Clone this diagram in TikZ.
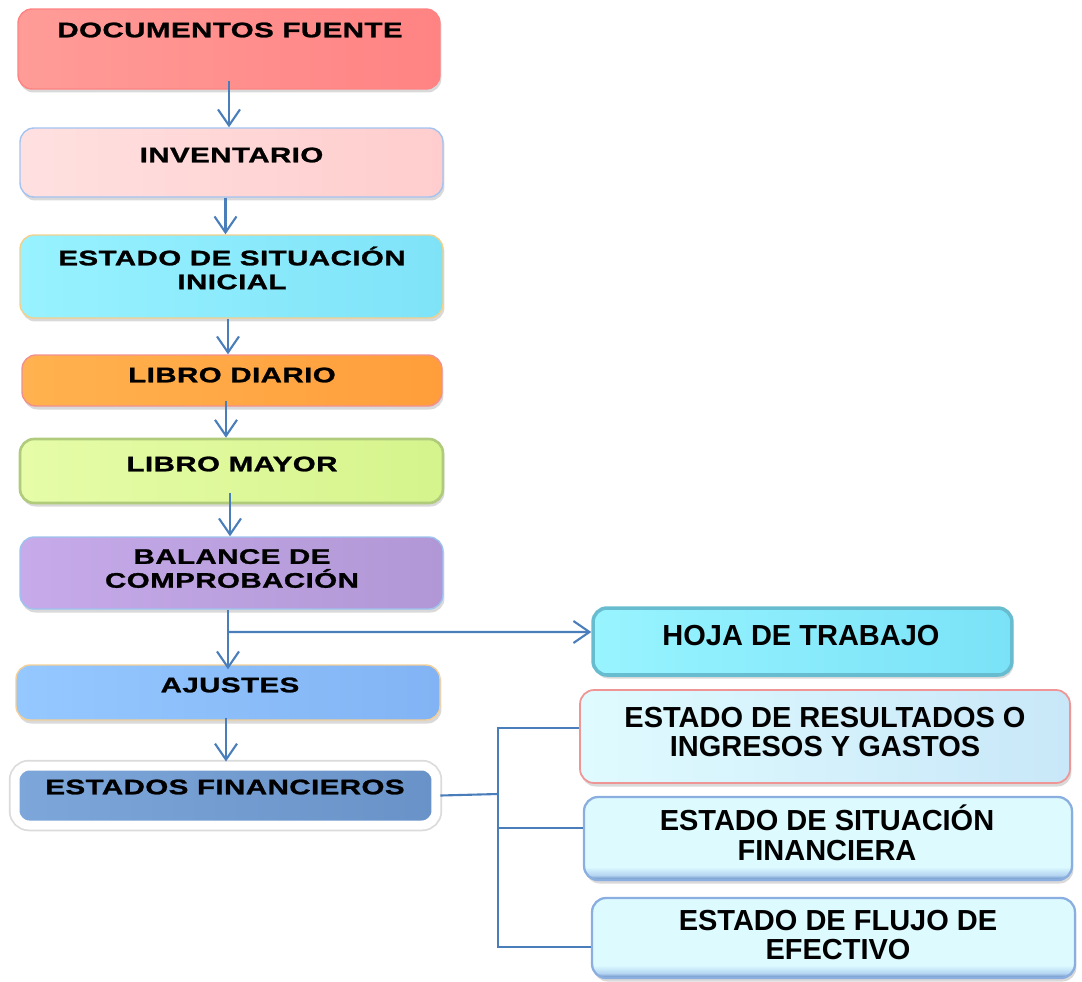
\documentclass[tikz,border=0pt]{standalone}
\usepackage{fontspec}
\setmainfont{Liberation Sans}
\newfontfamily\boxfont{Liberation Sans Bold}[FakeStretch=1.4,LetterSpace=2,FakeBold=1.2]
\usetikzlibrary{arrows.meta,shadows}

\definecolor{arrowblue}{HTML}{4A7EBB}
\definecolor{docL}{HTML}{FF9C98}\definecolor{docR}{HTML}{FF8383}
\definecolor{invL}{HTML}{FFE0E0}\definecolor{invR}{HTML}{FFCDCD}\definecolor{invD}{HTML}{A3C3F0}
\definecolor{esiL}{HTML}{98F2FF}\definecolor{esiR}{HTML}{7FE3F8}\definecolor{esiD}{HTML}{F3D08A}
\definecolor{ldL}{HTML}{FFB24F}\definecolor{ldR}{HTML}{FF9E3B}\definecolor{ldD}{HTML}{F29090}
\definecolor{lmL}{HTML}{E6FCA8}\definecolor{lmR}{HTML}{D5F48C}\definecolor{lmD}{HTML}{AFCB7B}
\definecolor{bcL}{HTML}{C6AAE9}\definecolor{bcR}{HTML}{B197D5}\definecolor{bcD}{HTML}{9DC3EE}
\definecolor{ajL}{HTML}{95C8FF}\definecolor{ajR}{HTML}{82B3F4}\definecolor{ajD}{HTML}{F4CF96}
\definecolor{efL}{HTML}{7DA7DA}\definecolor{efR}{HTML}{6993C8}
\definecolor{htL}{HTML}{98F4FF}\definecolor{htR}{HTML}{7AE2F7}\definecolor{htD}{HTML}{67BDCF}
\definecolor{erL}{HTML}{E0FBFF}\definecolor{erR}{HTML}{C8E7F8}\definecolor{erD}{HTML}{F09595}
\definecolor{bevlight}{HTML}{DDFBFF}\definecolor{bevmid}{HTML}{B4D4F2}
\definecolor{bevdark}{HTML}{5F86BF}\definecolor{bevD}{HTML}{8AAEDF}

\pgfdeclareverticalshading{bevel}{100bp}{color(0bp)=(bevdark); color(25bp)=(bevdark);
  color(28bp)=(bevmid); color(33bp)=(bevlight); color(100bp)=(bevlight)}

\begin{document}
\begin{tikzpicture}[x=0.02cm, y=-0.02cm,
    box/.style={rounded corners=0.28cm, line width=0.8pt,
      drop shadow={shadow xshift=0.03cm, shadow yshift=-0.07cm, opacity=0.3}},
    ltext/.style={font=\boxfont\fontsize{12}{13.6}\selectfont, align=center, inner sep=0pt},
    rtext/.style={font=\bfseries\fontsize{16.5}{17}\selectfont, align=center, inner sep=0pt},
    flow/.style={draw=arrowblue, line width=1.2pt, -{Straight Barb[length=3.2mm,width=4.4mm]}},
    link/.style={draw=arrowblue, line width=1.2pt}]
    \useasboundingbox (0,0) rectangle (1082,981);

    % Draw the boxes of the main chain
    \node[box, left color=docL, right color=docR, draw=docR, minimum width=8.44cm, minimum height=1.6cm] (doc) at (229,49) {};
    \node[box, left color=invL, right color=invR, draw=invD, minimum width=8.46cm, minimum height=1.38cm] (inv) at (231.5,162.5) {};
    \node[box, left color=esiL, right color=esiR, draw=esiD, minimum width=8.46cm, minimum height=1.66cm] (esi) at (231.5,276.5) {};
    \node[box, left color=ldL, right color=ldR, draw=ldD, minimum width=8.4cm, minimum height=1.02cm] (ld) at (232,380.5) {};
    \node[box, left color=lmL, right color=lmR, draw=lmD, line width=1.5pt, minimum width=8.46cm, minimum height=1.28cm] (lm) at (231.5,471) {};
    \node[box, left color=bcL, right color=bcR, draw=bcD, minimum width=8.46cm, minimum height=1.44cm] (bc) at (231.5,573) {};
    \node[box, left color=ajL, right color=ajR, draw=ajD, minimum width=8.48cm, minimum height=1.1cm] (aj) at (228,692.5) {};
    \node[box, left color=efL, right color=efR, draw=white, line width=0.18cm,
      preaction={draw=black!14, line width=0.25cm},
      minimum width=8.42cm, minimum height=1.18cm] (ef) at (225.5,795.5) {};

    % Texts of the main chain
    \node[ltext] (doc-t) at (230,30) {DOCUMENTOS FUENTE};
    \node[ltext] (inv-t) at (231.5,155) {INVENTARIO};
    \node[ltext] (esi-t) at (232,268) {ESTADO DE SITUACIÓN\\INICIAL};
    \node[ltext] (ld-t) at (232,375) {LIBRO DIARIO};
    \node[ltext] (lm-t) at (232,464) {LIBRO MAYOR};
    \node[ltext] (bc-t) at (232,568.5) {BALANCE DE\\COMPROBACIÓN};
    \node[ltext] (aj-t) at (230,685) {AJUSTES};
    \node[ltext] (ef-t) at (225,787) {ESTADOS FINANCIEROS};

    % Draw the boxes on the right
    \node[box, left color=htL, right color=htR, draw=htD, line width=2pt, minimum width=8.38cm, minimum height=1.34cm] (ht) at (802.5,641.5) {};
    \node[box, left color=erL, right color=erR, draw=erD, line width=1pt, minimum width=9.8cm, minimum height=1.86cm] (er) at (825,736.5) {};
    \node[box, shading=bevel, draw=bevD, line width=1.3pt, minimum width=9.76cm, minimum height=1.66cm] (esf) at (828,838.5) {};
    \node[box, shading=bevel, draw=bevD, line width=1.3pt, minimum width=9.66cm, minimum height=1.6cm] (efe) at (833.5,938) {};

    \node[rtext] (ht-t) at (801,636) {HOJA DE TRABAJO};
    \node[rtext] (er-t) at (825,732) {ESTADO DE RESULTADOS O\\INGRESOS Y GASTOS};
    \node[rtext] (esf-t) at (827,833) {ESTADO DE SITUACIÓN\\FINANCIERA};
    \node[rtext] (efe-t) at (838,935) {ESTADO DE FLUJO DE\\EFECTIVO};

    % Draw the arrows down the chain
    \draw[flow] ([yshift=0.18cm]doc.south) -- (doc.south |- inv.north);
    \draw[flow] ([xshift=-0.12cm]inv.south) -- ([xshift=-0.12cm]inv.south |- esi.north);
    \draw[flow] ([xshift=-0.07cm]esi.south) -- ([xshift=-0.07cm]esi.south |- ld.north);
    \draw[flow] ([xshift=-0.12cm,yshift=0.12cm]ld.south) -- ([xshift=-0.12cm]ld.south |- lm.north);
    \draw[flow] ([xshift=-0.03cm,yshift=0.22cm]lm.south) -- ([xshift=-0.03cm]lm.south |- bc.north);
    \draw[flow] ([xshift=-0.07cm]bc.south) -- ([xshift=-0.07cm,yshift=-0.1cm]bc.south |- aj.north);
    \draw[flow] ([xshift=-0.04cm,yshift=0.06cm]aj.south) -- ([xshift=-0.04cm]aj.south |- ef.north);

    % Branch to the work sheet
    \coordinate (brk) at (228,632);
    \draw[flow] (brk) -- ([yshift=0.19cm]ht.west);

    % Bracket to the financial statements
    \coordinate (jn) at (498,794);
    \draw[link] (ef.east) -- (jn);
    \draw[link] ([yshift=0.17cm]er.west) -| (jn);
    \draw[link] ([yshift=0.21cm]esf.west) -| (jn);
    \draw[link] ([yshift=-0.18cm]efe.west) -| (jn);
\end{tikzpicture}
\end{document}
